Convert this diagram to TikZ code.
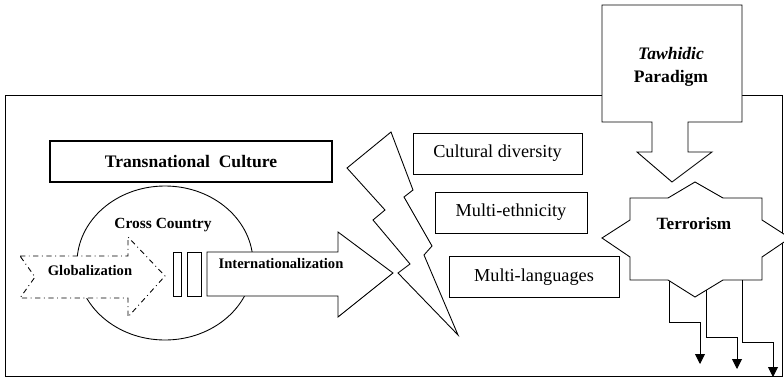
\documentclass[tikz,border=0pt]{standalone}
\usepackage{fontspec}
\setmainfont{Liberation Serif}
\usetikzlibrary{positioning,arrows.meta}

\begin{document}
\begin{tikzpicture}[x=0.02cm,y=-0.02cm,line width=0.5pt,
  box/.style={draw,inner sep=0pt,minimum height=0.82cm,font=\fontsize{10.4}{12}\selectfont},
  lbl/.style={inner sep=0pt,font=\bfseries\fontsize{8.3}{10}\selectfont},
  bigarrow/.style={draw,fill=white},
  drop/.style={-{Triangle[length=2mm,width=2mm]}}]
  \useasboundingbox (0,0) rectangle (784,379);

  % Frame
  \draw (5,95) rectangle (782,376);

  % Left part
  \node[box, line width=1.6pt, minimum width=5.64cm,
        font=\bfseries\fontsize{10}{12}\selectfont]     (tc)   at (191,161.5) {Transnational\ \ Culture};
  \draw (165,263) ellipse [x radius=88, y radius=77];
  \node[lbl, font=\bfseries\fontsize{8.8}{10}\selectfont] (cc) at (163,225) {Cross Country};
  \draw[bigarrow, dash dot] (20,256) -- (128,256) -- (128,237) -- (165,276)
        -- (128,317) -- (128,298) -- (20,298) -- (35,277) -- cycle;
  \node[lbl]                                               (glob) at (90,271) {Globalization};
  \draw (173,252) rectangle (181,296);
  \draw (187,252) rectangle (201,296);
  \draw[bigarrow] (207,252) -- (338,252) -- (338,232) -- (393,273)
        -- (338,317) -- (338,296) -- (207,296) -- cycle;
  \node[lbl]                                               (intl) at (281,264) {Internationalization};

  % Bolt
  \draw[bigarrow] (391,132) -- (413,190) -- (404,197) -- (432,246) -- (424,255)
        -- (458,335) -- (398,273) -- (410,264) -- (373,220) -- (385,210)
        -- (347,168) -- cycle;

  % Boxes
  \node[box, minimum width=3.38cm] (cd) at (497.5,153.5) {Cultural diversity};
  \node[box, minimum width=3.04cm] (me) at (511,212.5)   {Multi-ethnicity};
  \node[box, minimum width=3.40cm] (ml) at (534,277)     {Multi-languages};

  % Right part
  \draw[bigarrow] (602,5) -- (742,5) -- (742,122) -- (688,122) -- (688,152)
        -- (712,152) -- (672,182) -- (637,152) -- (652,152) -- (652,122)
        -- (602,122) -- cycle;
  \node[lbl, align=center, font=\bfseries\fontsize{10}{13}\selectfont]
        (tp) at (671,67) {\textit{Tawhidic}\\Paradigm};
  \draw[bigarrow] (602,238) -- (630,220) -- (630,198) -- (668,198) -- (695,182)
        -- (723,198) -- (762,198) -- (762,220) -- (790,238) -- (762,257)
        -- (762,280) -- (723,280) -- (695,297) -- (668,280) -- (630,280)
        -- (630,257) -- cycle;
  \node[lbl, font=\bfseries\fontsize{9.8}{12}\selectfont] (ter) at (694,224) {Terrorism};

  % Connect the nodes
  \coordinate (t1) at (669,281);
  \coordinate (t2) at (706,290);
  \coordinate (t3) at (742,280);
  \coordinate (e1) at (700,364);
  \coordinate (e2) at (737,369);
  \coordinate (e3) at (773,377);
  \draw[drop] (t1) -- (669,322) -| (e1);
  \draw[drop] (t2) -- (706,337) -| (e2);
  \draw[drop] (t3) -- (742,342) -| (e3);
\end{tikzpicture}
\end{document}
